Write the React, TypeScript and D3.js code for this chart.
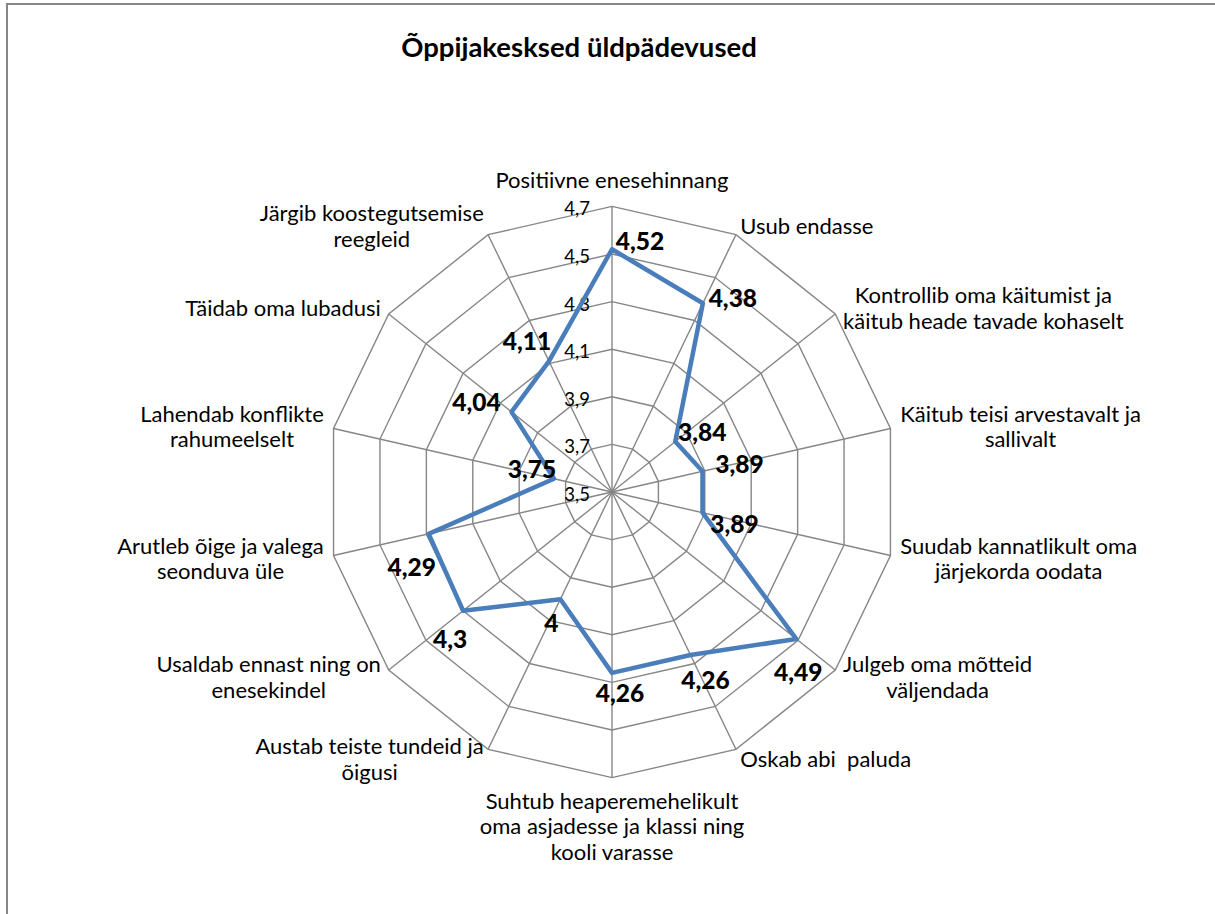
import React, { useRef, useEffect } from 'react'
import * as d3 from 'd3'

const title = 'Õppijakesksed üldpädevused'
const categories: string[][] = [
  ['Positiivne enesehinnang'],
  ['Usub endasse'],
  ['Kontrollib oma käitumist ja', 'käitub heade tavade kohaselt'],
  ['Käitub teisi arvestavalt ja', 'sallivalt'],
  ['Suudab kannatlikult oma', 'järjekorda oodata'],
  ['Julgeb oma mõtteid', 'väljendada'],
  ['Oskab abi  paluda'],
  ['Suhtub heaperemehelikult', 'oma asjadesse ja klassi ning', 'kooli varasse'],
  ['Austab teiste tundeid ja', 'õigusi'],
  ['Usaldab ennast ning on', 'enesekindel'],
  ['Arutleb õige ja valega', 'seonduva üle'],
  ['Lahendab konflikte', 'rahumeelselt'],
  ['Täidab oma lubadusi'],
  ['Järgib koostegutsemise', 'reegleid'],
]
const values = [4.52, 4.38, 3.84, 3.89, 3.89, 4.49, 4.26, 4.26, 4, 4.3, 4.29, 3.75, 4.04, 4.11]
const ticks = [3.5, 3.7, 3.9, 4.1, 4.3, 4.5, 4.7]
const tickLabels = ['3,5', '3,7', '3,9', '4,1', '4,3', '4,5', '4,7']

// where each value label sits relative to its point (layout only)
const labelShift = [
  [28, -9], [30, -6], [27, -10], [37, -8], [32, 11], [2, 33], [15, 25],
  [8, 20], [-9, 23], [-13, 28], [-17, 33], [-22, -10], [-35, -10], [-22, -21],
]

const fmt = (v: number) => String(v).replace('.', ',')

const App = () => {
  const ref = useRef<SVGSVGElement>(null)
  useEffect(() => {
    document.body.style.margin = '0'
    const w = 1215
    const h = 914
    const cx = 612
    const cy = 492
    const R = 285.6
    const font = 'Lato, "Open Sans", sans-serif'
    const grey = '#868686'

    const svg = d3.select(ref.current)
      .attr('width', w)
      .attr('height', h)
      .style('background', 'white')
      .style('display', 'block')
    svg.selectAll('*').remove()

    // frame
    svg.append('rect')
      .attr('x', 7).attr('y', 4)
      .attr('width', 1240).attr('height', 940)
      .attr('fill', 'white')
      .attr('stroke', grey)
      .attr('stroke-width', 2)

    svg.append('text')
      .attr('x', 579).attr('y', 46)
      .attr('text-anchor', 'middle')
      .attr('dominant-baseline', 'central')
      .style('font-family', font)
      .style('font-weight', 'bold')
      .style('font-size', '27.5px')
      .text(title)

    const n = categories.length
    const angle = d3.scaleLinear().domain([0, n]).range([0, 2 * Math.PI])
    const r = d3.scaleLinear().domain([3.5, 4.7]).range([0, R])

    const g = svg.append('g').attr('transform', `translate(${cx},${cy})`)

    // rings
    const ring = d3.lineRadial<number>()
      .angle((d, i) => angle(i))
      .curve(d3.curveLinearClosed)
    g.selectAll('.ring')
      .data(ticks)
      .enter().append('path')
      .attr('class', 'ring')
      .attr('d', t => ring.radius(() => r(t))(d3.range(n).map(() => t)))
      .attr('fill', 'none')
      .attr('stroke', grey)
      .attr('stroke-width', 1.4)

    // spokes
    g.selectAll('.spoke')
      .data(d3.range(n))
      .enter().append('line')
      .attr('class', 'spoke')
      .attr('x1', 0).attr('y1', 0)
      .attr('x2', i => R * Math.sin(angle(i)))
      .attr('y2', i => -R * Math.cos(angle(i)))
      .attr('stroke', grey)
      .attr('stroke-width', 1.4)

    // tick labels
    g.selectAll('.tick')
      .data(ticks)
      .enter().append('text')
      .attr('class', 'tick')
      .attr('x', -22)
      .attr('y', t => -r(t) + 2)
      .attr('text-anchor', 'end')
      .attr('dominant-baseline', 'central')
      .style('font-family', font)
      .style('font-size', '18.5px')
      .text((t, i) => tickLabels[i])

    // series
    const line = d3.lineRadial<number>()
      .angle((d, i) => angle(i))
      .radius(d => r(d))
      .curve(d3.curveLinearClosed)
    g.append('path')
      .attr('d', line(values))
      .attr('fill', 'none')
      .attr('stroke', '#4a7ebb')
      .attr('stroke-width', 4.5)
      .attr('stroke-linejoin', 'round')

    // value labels
    g.selectAll('.val')
      .data(values)
      .enter().append('text')
      .attr('class', 'val')
      .attr('x', (v, i) => r(v) * Math.sin(angle(i)) + labelShift[i][0])
      .attr('y', (v, i) => -r(v) * Math.cos(angle(i)) + labelShift[i][1])
      .attr('text-anchor', 'middle')
      .attr('dominant-baseline', 'central')
      .style('font-family', font)
      .style('font-weight', 900)
      .style('font-size', '24.5px')
      .text(v => fmt(v))

    // category labels
    const lh = 25.5
    const pad = 10
    categories.forEach((lines, i) => {
      const a = angle(i)
      const s = Math.sin(a)
      const c = Math.cos(a)
      const ax = (R + pad) * s
      const ay = -(R + pad) * c
      const lg = g.append('g')
      lines.forEach((txt, k) => {
        lg.append('text')
          .attr('x', 0)
          .attr('y', (k - (lines.length - 1) / 2) * lh)
          .attr('text-anchor', 'middle')
          .attr('dominant-baseline', 'central')
          .style('font-family', font)
          .style('font-size', '22px')
          .style('white-space', 'pre')
          .text(txt)
      })
      const bw = d3.max(lg.selectAll<SVGTextElement, unknown>('text').nodes(), t => t.getComputedTextLength()) || 0
      const bh = lines.length * lh
      let gx = ax
      let gy = ay
      if (Math.abs(s) < 0.05) {
        gy = c > 0 ? ay - bh / 2 - 4 : ay + bh / 2
      } else {
        gx = ax + Math.sign(s) * bw / 2
      }
      lg.attr('transform', `translate(${gx},${gy})`)
    })
  }, [])
  return (
    <div>
      <svg ref={ref}></svg>
    </div>
  )
}

export default App
